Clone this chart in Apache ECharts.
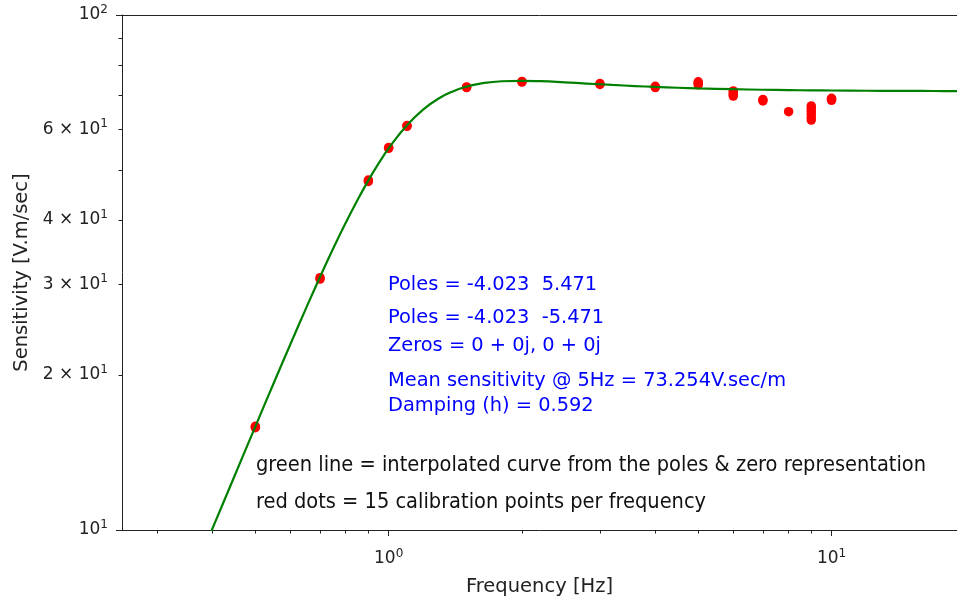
<!DOCTYPE html>
<html>
<head>
<meta charset="utf-8">
<script src="https://cdn.jsdelivr.net/npm/echarts@6/dist/echarts.min.js"></script>
<style>html,body{margin:0;padding:0;background:#fff}#chart{width:957px;height:602px}</style>
</head>
<body>
<div id="chart"></div>
<script>
// Green curve
const curveFreqs = [0.35, 0.4, 0.45, 0.5, 0.55, 0.6, 0.65, 0.7, 0.75, 0.8, 0.85, 0.9, 0.95, 1.0, 1.1, 1.2, 1.3, 1.4, 1.5, 1.6, 1.8, 2.0, 2.2, 2.5, 2.8, 3.2, 3.6, 4, 4.5, 5, 6, 7, 8, 9, 10, 12, 14, 16, 18, 20];
const curveValues = [7.65, 10.06, 12.80, 15.88, 19.27, 22.95, 26.88, 31.00, 35.23, 39.49, 43.69, 47.74, 51.56, 55.08, 61.08, 65.65, 68.91, 71.14, 72.60, 73.52, 74.36, 74.51, 74.38, 74.00, 73.61, 73.15, 72.79, 72.50, 72.24, 72.04, 71.76, 71.59, 71.48, 71.40, 71.35, 71.27, 71.23, 71.20, 71.18, 71.16];

// Red calibration dots: readings per frequency
const calFreqs = [0.5, 0.7, 0.9, 1.0, 1.1, 1.5, 2, 3, 4, 5, 6, 7, 8, 9, 10];
const calValues = [
  [15.8, 15.9],
  [30.7, 30.9],
  [47.5, 47.8],
  [55.1, 55.3],
  [60.8, 61.0],
  [72.3, 72.5],
  [74.1, 74.3],
  [73.3, 73.6],
  [72.3, 72.7],
  [73.2, 73.7, 74.2],
  [69.6, 70.1, 70.6, 71.2],
  [68.1, 68.5],
  [64.9],
  [62.5, 63.3, 64.2, 65.0, 65.8, 66.6],
  [68.3, 68.7, 68.9]
];

const xMajorTicks = [1, 10];
const xMinorTicks = [0.3, 0.4, 0.5, 0.6, 0.7, 0.8, 0.9, 2, 3, 4, 5, 6, 7, 8, 9];
const yMajorTicks = [10, 100];
const yMinorTicks = [20, 30, 40, 50, 60, 70, 80, 90];
const yTickLabels = [10, 20, 30, 40, 60, 100];

const annotationsBlue = [
  'Poles = -4.023  5.471',
  'Poles = -4.023  -5.471',
  'Zeros = 0 + 0j, 0 + 0j',
  'Mean sensitivity @ 5Hz = 73.254V.sec/m',
  'Damping (h) = 0.592'
];
const annotationsBlack = [
  'green line = interpolated curve from the poles & zero representation',
  'red dots = 15 calibration points per frequency'
];

const FONT = "'DejaVu Sans', sans-serif";
const AX = '#222';

const curveData = curveFreqs.map((f, i) => [f, curveValues[i]]);
const calData = [];
calFreqs.forEach((f, i) => calValues[i].forEach(v => calData.push([f, v])));

const rich = {
  b: { fontSize: 17, fontFamily: FONT, color: '#222' },
  s: { fontSize: 12, fontFamily: FONT, color: '#222', padding: [0, 0, 10, 0] }
};

function powLabel(v) {
  const e = Math.floor(Math.log10(v) + 1e-9);
  const m = Math.round(v / Math.pow(10, e));
  if (m === 1) return '{b|10}{s|' + e + '}';
  return '{b|' + m + ' \u00d7 10}{s|' + e + '}';
}

const chart = echarts.init(document.getElementById('chart'), null, { renderer: 'canvas' });

const blueY = [285, 318, 346, 381, 406];
const blackY = [465, 502];
const graphics = [];
annotationsBlue.forEach((t, i) => graphics.push({
  type: 'text', x: 388, y: blueY[i],
  style: { text: t, fill: '#0000ff', font: "19.4px 'DejaVu Sans', sans-serif", verticalAlign: 'middle', align: 'left' }
}));
annotationsBlack.forEach((t, i) => graphics.push({
  type: 'text', x: 256, y: blackY[i],
  style: { text: t, fill: '#111', font: "21.6px 'DejaVu Sans Condensed', 'Liberation Sans Narrow', sans-serif", verticalAlign: 'middle', align: 'left' }
}));

chart.setOption({
  animation: false,
  backgroundColor: '#fff',
  grid: { left: 122, top: 15, right: 0, bottom: 72, containLabel: false },
  xAxis: [
    {
      type: 'log', logBase: 10, min: 0.25, max: 19.2, position: 'bottom',
      name: 'Frequency [Hz]', nameLocation: 'middle', nameGap: 47,
      nameTextStyle: { fontSize: 19.5, fontFamily: FONT, color: '#222' },
      axisLine: { show: true, lineStyle: { color: AX, width: 1 } },
      axisTick: { show: true, length: 6, lineStyle: { color: AX }, customValues: xMajorTicks },
      axisLabel: { show: true, margin: 18, customValues: xMajorTicks, formatter: powLabel, rich: rich },
      splitLine: { show: false }, minorTick: { show: false }
    },
    {
      type: 'log', logBase: 10, min: 0.25, max: 19.2, position: 'bottom',
      axisLine: { show: false },
      axisTick: { show: true, length: 3.5, lineStyle: { color: AX }, customValues: xMinorTicks },
      axisLabel: { show: false }, splitLine: { show: false }
    },
    {
      type: 'log', logBase: 10, min: 0.25, max: 19.2, position: 'top',
      axisLine: { show: true, lineStyle: { color: AX, width: 1 } },
      axisTick: { show: false }, axisLabel: { show: false }, splitLine: { show: false }
    }
  ],
  yAxis: [
    {
      type: 'log', logBase: 10, min: 10, max: 100, position: 'left',
      name: 'Sensitivity [V.m/sec]', nameLocation: 'middle', nameGap: 90, nameRotate: 90,
      nameTextStyle: { fontSize: 19.5, fontFamily: FONT, color: '#222' },
      axisLine: { show: true, lineStyle: { color: AX, width: 1 } },
      axisTick: { show: true, length: 6, lineStyle: { color: AX }, customValues: yMajorTicks },
      axisLabel: { show: true, margin: 14, customValues: yTickLabels, formatter: powLabel, rich: rich },
      splitLine: { show: false }
    },
    {
      type: 'log', logBase: 10, min: 10, max: 100, position: 'left',
      axisLine: { show: false },
      axisTick: { show: true, length: 3.5, lineStyle: { color: AX }, customValues: yMinorTicks },
      axisLabel: { show: false }, splitLine: { show: false }
    }
  ],
  series: [
    {
      type: 'scatter', xAxisIndex: 0, yAxisIndex: 0, data: calData,
      symbol: 'circle', symbolSize: 9.5, itemStyle: { color: '#ff0000', opacity: 1 }, z: 2
    },
    {
      type: 'line', xAxisIndex: 0, yAxisIndex: 0, data: curveData,
      showSymbol: false, smooth: true, clip: true,
      lineStyle: { color: '#008000', width: 2.2 }, z: 3
    }
  ],
  graphic: graphics
});
</script>
</body>
</html>
